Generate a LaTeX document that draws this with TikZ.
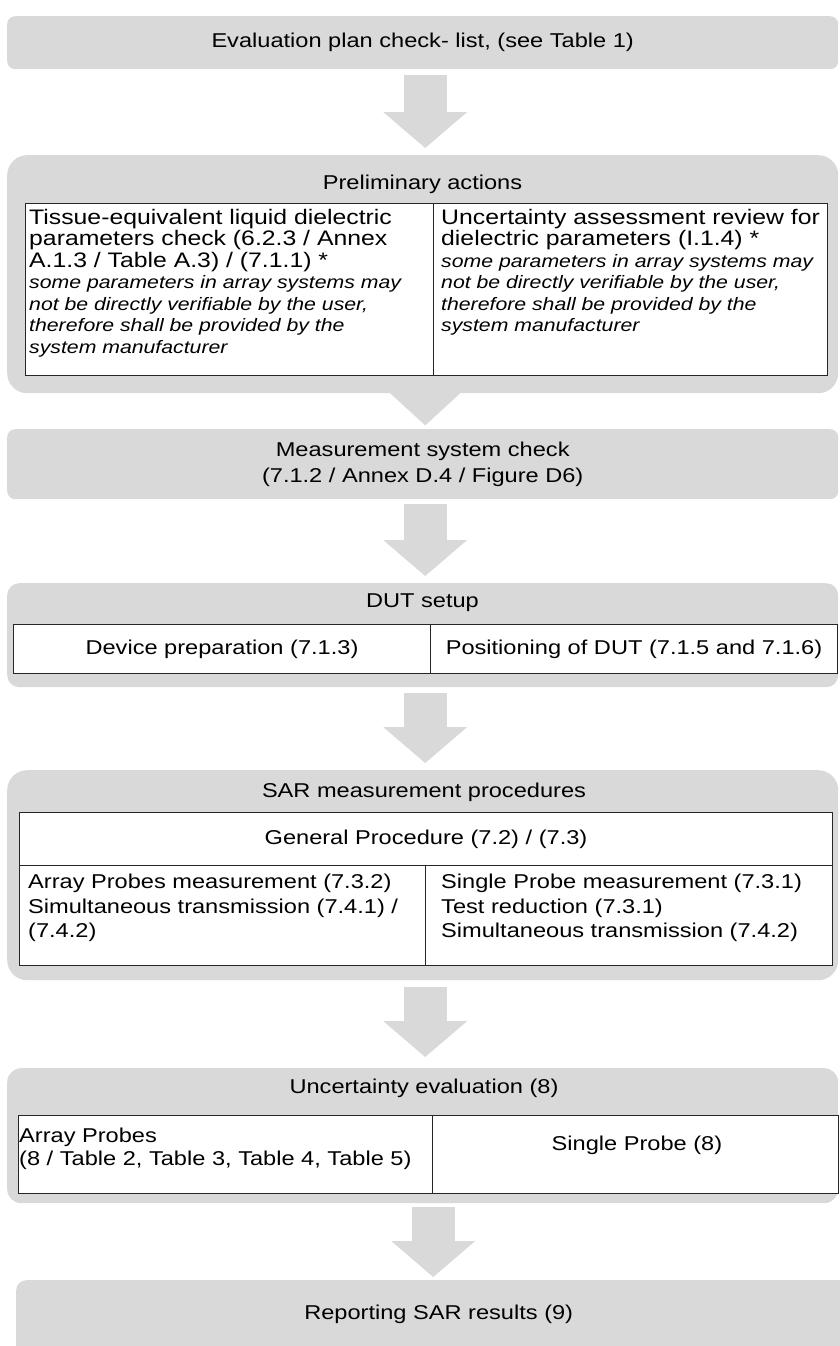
\documentclass[tikz,border=0pt]{standalone}
\usepackage{fontspec}
\setmainfont{Liberation Sans}[FakeStretch=1.18]
\usepackage{tikz}
\usetikzlibrary{arrows.meta,positioning,calc}
\definecolor{boxgrey}{RGB}{217,217,217}
\newcommand{\note}[1]{{\fontsize{18}{21}\selectfont\itshape #1}}

\begin{document}
\begin{tikzpicture}[x=1pt, y=-1pt,
  grp/.style={fill=boxgrey, draw=none, rounded corners=20pt, inner sep=0pt, anchor=north west, align=center, font=\fontsize{20}{23}\selectfont},
  ttl/.style={font=\fontsize{20}{23}\selectfont, inner sep=0pt, align=center},
  cell/.style={draw=black!85, line width=1pt, fill=white, inner sep=0pt, anchor=north west, font=\fontsize{20}{23}\selectfont},
  txt/.style={font=\fontsize{21}{21.5}\selectfont, inner sep=0pt, align=left, anchor=north west},
  blk/.style={draw=boxgrey, line width=43pt, -{Triangle[width=84pt,length=36pt,line width=0pt]}},
]
\useasboundingbox (0,0) rectangle (839,1346);

% evaluation plan
\node[grp, rounded corners=8pt, minimum width=831pt, minimum height=53pt] (plan) at (7,16) {Evaluation plan check- list, (see Table 1)};

% preliminary actions
\node[grp, minimum width=831pt, minimum height=238pt] (prelim) at (7,155) {};
\fill[boxgrey] ([xshift=-34.5pt,yshift=2pt]prelim.south) -- ([xshift=39.5pt,yshift=2pt]prelim.south) -- ([xshift=2.5pt,yshift=-32pt]prelim.south) -- cycle;
\node[ttl] (prelimT) at (422.5,184) {Preliminary actions};
\node[cell, minimum width=408pt, minimum height=172pt] (tissue) at (25,203) {};
\node[cell, minimum width=394pt, minimum height=172pt] (review) at (433,203) {};
\node[txt] (tissueT) at ([shift={(4pt,-6pt)}]tissue.north west) {Tissue-equivalent liquid dielectric\\
  parameters check (6.2.3 / Annex\\
  A.1.3 / Table A.3) / (7.1.1) *\\
  \note{some parameters in array systems may}\\
  \note{not be directly verifiable by the user,}\\
  \note{therefore shall be provided by the}\\
  \note{system manufacturer}};
\node[txt] (reviewT) at ([shift={(8pt,-6pt)}]review.north west) {Uncertainty assessment review for\\
  dielectric parameters (I.1.4) *\\
  \note{some parameters in array systems may}\\
  \note{not be directly verifiable by the user,}\\
  \note{therefore shall be provided by the}\\
  \note{system manufacturer}};

% measurement system check
\node[grp, rounded corners=8pt, minimum width=831pt, minimum height=70pt, font=\fontsize{20}{26}\selectfont] (measure) at (7,429) {Measurement system check\\(7.1.2 / Annex D.4 / Figure D6)};

% DUT setup
\node[grp, rounded corners=12pt, minimum width=831pt, minimum height=104pt] (dut) at (7,583) {};
\node[ttl] (dutT) at (422.5,603) {DUT setup};
\node[cell, minimum width=417pt, minimum height=49pt] (prep) at (13,624) {Device preparation (7.1.3)};
\node[cell, minimum width=407pt, minimum height=49pt] (pos) at (430,624) {Positioning of DUT (7.1.5 and 7.1.6)};

% SAR measurement
\node[grp, minimum width=831pt, minimum height=210pt] (sar) at (7,770) {};
\node[ttl] (sarT) at (424,792) {SAR measurement procedures};
\node[cell, minimum width=813pt, minimum height=53pt] (general) at (19,812) {General Procedure (7.2) / (7.3)};
\node[cell, minimum width=406pt, minimum height=100pt] (arrayM) at (19,865) {};
\node[cell, minimum width=407pt, minimum height=100pt] (singleM) at (425,865) {};
\node[txt, font=\fontsize{20}{24.5}\selectfont] (arrayMT) at ([shift={(9pt,-9pt)}]arrayM.north west) {Array Probes measurement (7.3.2)\\
  Simultaneous transmission (7.4.1) /\\
  (7.4.2)};
\node[txt, font=\fontsize{20}{24.5}\selectfont] (singleMT) at ([shift={(16pt,-9pt)}]singleM.north west) {Single Probe measurement (7.3.1)\\
  Test reduction (7.3.1)\\
  Simultaneous transmission (7.4.2)};

% uncertainty
\node[grp, rounded corners=14pt, minimum width=831pt, minimum height=135pt] (unc) at (7,1068) {};
\node[ttl] (uncT) at (424,1088) {Uncertainty evaluation (8)};
\node[cell, minimum width=414pt, minimum height=78pt] (arrayU) at (18,1115) {};
\node[cell, minimum width=406pt, minimum height=78pt] (singleU) at (432,1115) {};
\node[txt, font=\fontsize{20}{23}\selectfont] (arrayUT) at ([shift={(1pt,-13pt)}]arrayU.north west) {Array Probes\\
  (8 / Table 2, Table 3, Table 4, Table 5)};
\node[ttl] (singleUT) at (637,1145) {Single Probe (8)};

% reporting
\node[grp, rounded corners=10pt, minimum width=845pt, minimum height=84pt, text depth=20pt] (report) at (16,1280) {Reporting SAR results (9)};

% block arrows
\draw[blk, shorten <=6pt, shorten >=7pt] ([xshift=2.5pt]plan.south) -- ([xshift=2.5pt]prelim.north);
\draw[blk, shorten <=5pt, shorten >=7pt] ([xshift=2.5pt]measure.south) -- ([xshift=2.5pt]dut.north);
\draw[blk, shorten <=6pt, shorten >=7pt] ([xshift=2.5pt]dut.south) -- ([xshift=2.5pt]sar.north);
\draw[blk, shorten <=7pt, shorten >=11pt] ([xshift=2.5pt]sar.south) -- ([xshift=2.5pt]unc.north);
\draw[blk, shorten <=4pt, shorten >=3pt] ([xshift=10.5pt]unc.south) -- ([xshift=-5.5pt]report.north);

\end{tikzpicture}
\end{document}
